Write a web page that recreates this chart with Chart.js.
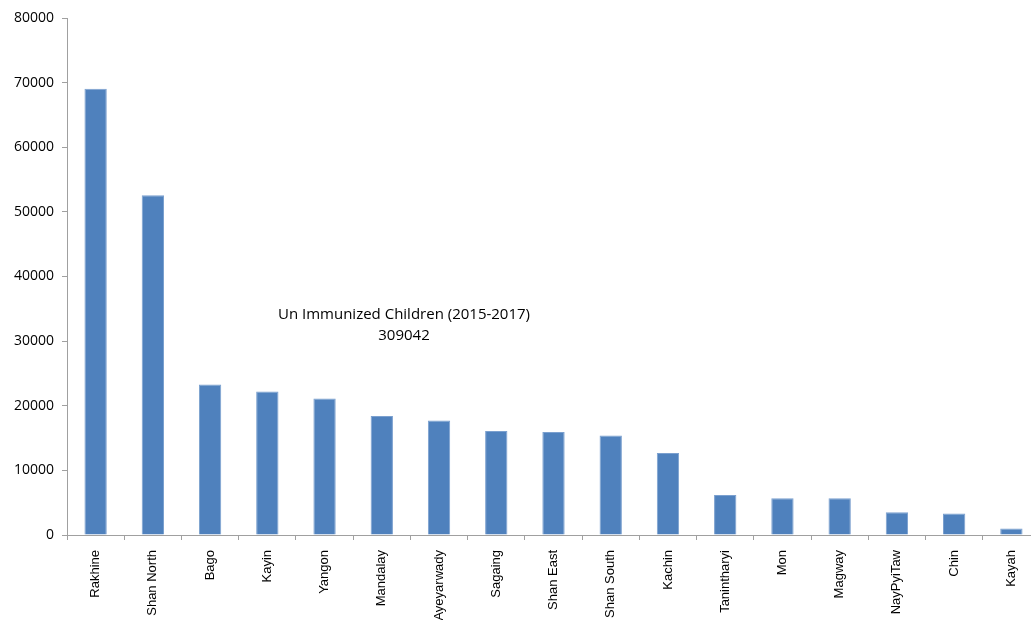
<!DOCTYPE html>
<html lang="en">
<head>
    <meta charset="UTF-8">
    <title>Un Immunized Children</title>
    <script src="https://cdn.jsdelivr.net/npm/chart.js"></script>
    <style>
        body { margin: 0; overflow: hidden; background: #fff; }
        .grafico { width: 1040px; height: 620px; }
    </style>
</head>
<body>
    <div class="grafico">
        <canvas id="graficoRegioes"></canvas>
    </div>

<script>
    // regions, in the order shown
    const regioes = ["Rakhine", "Shan North", "Bago", "Kayin", "Yangon", "Mandalay", "Ayeyarwady",
        "Sagaing", "Shan East", "Shan South", "Kachin", "Tanintharyi", "Mon", "Magway",
        "NayPyiTaw", "Chin", "Kayah"];

    // un-immunized children per region
    const criancas = [69040, 52560, 23280, 22200, 21110, 18420, 17700, 16100, 15950, 15390,
        12700, 6190, 5680, 5680, 3510, 3310, 990];

    const yTicks = [0, 10000, 20000, 30000, 40000, 50000, 60000, 70000, 80000];

    const tituloLinhas = ["Un Immunized Children (2015-2017)", "309042"];

    // text in the middle of the plot
    const textoMeio = {
        id: 'textoMeio',
        afterDraw(chart) {
            const ctx = chart.ctx;
            ctx.save();
            ctx.fillStyle = '#000';
            ctx.font = '15px "Open Sans", sans-serif';
            ctx.textAlign = 'center';
            ctx.textBaseline = 'middle';
            ctx.fillText(tituloLinhas[0], 404, 315);
            ctx.fillText(tituloLinhas[1], 404, 336);
            ctx.restore();
        }
    };

    const config = {
        type: 'bar',
        data: {
            labels: regioes,
            datasets: [{
                label: 'Un Immunized Children',
                data: criancas,
                backgroundColor: '#4f81bd',
                borderColor: '#7ba0cf',
                borderWidth: 1,
                barPercentage: 0.39,
                categoryPercentage: 1
            }]
        },
        options: {
            responsive: true,
            maintainAspectRatio: false,
            animation: false,
            layout: { padding: { top: 18, right: 0, left: 0, bottom: 0 } },
            plugins: {
                legend: { display: false },
                tooltip: { enabled: false }
            },
            scales: {
                x: {
                    afterFit(scale) { scale.height = 85; },
                    border: { color: '#a0a0a0', width: 1 },
                    grid: {
                        display: true,
                        drawOnChartArea: false,
                        offset: true,
                        tickLength: 5,
                        color: '#a0a0a0'
                    },
                    ticks: {
                        autoSkip: false,
                        maxRotation: 90,
                        minRotation: 90,
                        padding: 10,
                        color: '#000',
                        font: { family: '"Liberation Sans", Arial, sans-serif', size: 13 }
                    }
                },
                y: {
                    min: 0,
                    max: 80000,
                    afterFit(scale) { scale.width = 67; },
                    afterBuildTicks(scale) { scale.ticks = yTicks.map(v => ({ value: v })); },
                    border: { color: '#a0a0a0', width: 1 },
                    grid: {
                        display: true,
                        drawOnChartArea: false,
                        tickLength: 5,
                        color: '#a0a0a0'
                    },
                    ticks: {
                        padding: 8,
                        color: '#000',
                        font: { family: '"Open Sans", sans-serif', size: 14 },
                        callback: v => String(v)
                    }
                }
            }
        },
        plugins: [textoMeio]
    };

    let chartRegioes = new Chart(document.getElementById('graficoRegioes'), config);
</script>
</body>
</html>
